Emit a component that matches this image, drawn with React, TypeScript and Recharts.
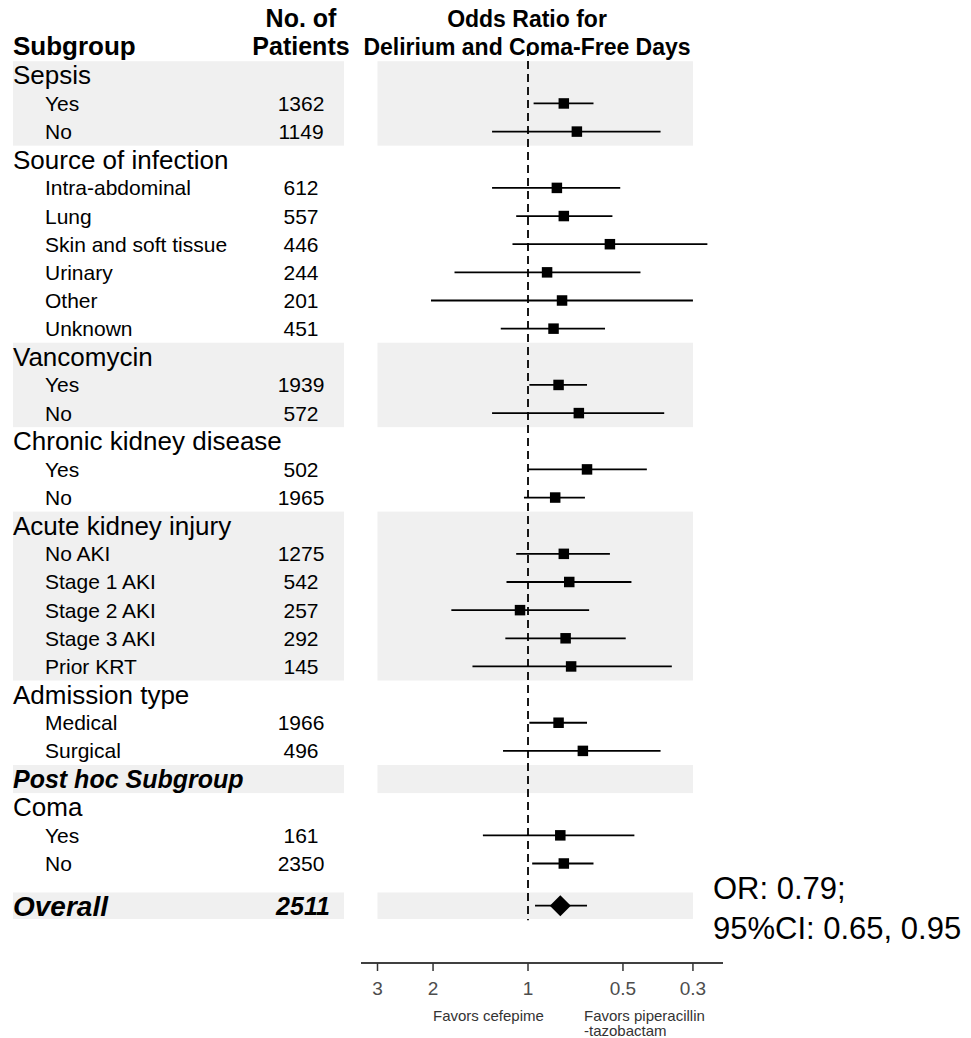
import React from 'react';
import { ScatterChart, Scatter, XAxis, YAxis, ErrorBar, ReferenceArea, ReferenceLine } from 'recharts';

const FONT = '"Liberation Sans", Arial, Helvetica, sans-serif';

// ---- data ----
const labels = [
  'Sepsis', 'Yes', 'No',
  'Source of infection', 'Intra-abdominal', 'Lung', 'Skin and soft tissue', 'Urinary', 'Other', 'Unknown',
  'Vancomycin', 'Yes', 'No',
  'Chronic kidney disease', 'Yes', 'No',
  'Acute kidney injury', 'No AKI', 'Stage 1 AKI', 'Stage 2 AKI', 'Stage 3 AKI', 'Prior KRT',
  'Admission type', 'Medical', 'Surgical',
  'Post hoc Subgroup',
  'Coma', 'Yes', 'No',
  'Overall',
];
const rowKinds = [
  'group', 'sub', 'sub',
  'group', 'sub', 'sub', 'sub', 'sub', 'sub', 'sub',
  'group', 'sub', 'sub',
  'group', 'sub', 'sub',
  'group', 'sub', 'sub', 'sub', 'sub', 'sub',
  'group', 'sub', 'sub',
  'posthoc',
  'group', 'sub', 'sub',
  'overall',
];
const rowPos = [0, 1, 2, 3, 4, 5, 6, 7, 8, 9, 10, 11, 12, 13, 14, 15, 16, 17, 18, 19, 20, 21, 22, 23, 24, 25, 26, 27, 28, 29.5];
const patients = [
  '', '1362', '1149',
  '', '612', '557', '446', '244', '201', '451',
  '', '1939', '572',
  '', '502', '1965',
  '', '1275', '542', '257', '292', '145',
  '', '1966', '496',
  '',
  '', '161', '2350',
  '2511',
];
const oddsRatio: (number | null)[] = [
  null, 0.77, 0.70,
  null, 0.81, 0.77, 0.55, 0.87, 0.78, 0.83,
  null, 0.80, 0.69,
  null, 0.65, 0.82,
  null, 0.77, 0.74, 1.06, 0.76, 0.73,
  null, 0.80, 0.67,
  null,
  null, 0.79, 0.77,
  0.79,
];
const ciLower: (number | null)[] = [
  null, 0.62, 0.38,
  null, 0.51, 0.54, 0.27, 0.44, 0.30, 0.57,
  null, 0.65, 0.37,
  null, 0.42, 0.66,
  null, 0.55, 0.47, 0.64, 0.49, 0.35,
  null, 0.65, 0.38,
  null,
  null, 0.46, 0.62,
  0.65,
];
const ciUpper: (number | null)[] = [
  null, 0.96, 1.30,
  null, 1.30, 1.09, 1.12, 1.71, 2.03, 1.22,
  null, 0.99, 1.30,
  null, 1.00, 1.03,
  null, 1.09, 1.17, 1.75, 1.18, 1.50,
  null, 0.99, 1.20,
  null,
  null, 1.39, 0.97,
  0.95,
];
const bandRows = [
  [0, 2],
  [10, 12],
  [16, 21],
  [25, 25],
  [29.5, 29.5],
];
const xTicks = [3, 2, 1, 0.5, 0.3];

// ---- derived table ----
const points = rowPos
  .map((row, i) => ({
    row,
    or: oddsRatio[i],
    err: oddsRatio[i] != null ? [(oddsRatio[i] as number) - (ciLower[i] as number), (ciUpper[i] as number) - (oddsRatio[i] as number)] : null,
    kind: rowKinds[i],
  }))
  .filter((d) => d.or != null);

const overallIdx = rowKinds.indexOf('overall');

const PointShape = (p: any) => {
  const { cx, cy, payload } = p;
  if (cx == null || cy == null) return null;
  if (payload && payload.kind === 'overall') {
    const h = 10.5;
    return <polygon points={`${cx - h},${cy} ${cx},${cy - h} ${cx + h},${cy} ${cx},${cy + h}`} fill="#000" />;
  }
  return <rect x={cx - 5.25} y={cy - 5.25} width={10.5} height={10.5} fill="#000" />;
};

const BandShape = (p: any) => {
  const { x, y, width, height } = p;
  return (
    <g>
      <rect x={13} y={y} width={331} height={height} fill="#F0F0F0" />
      <rect x={x} y={y} width={width} height={height} fill="#F0F0F0" />
    </g>
  );
};

const renderRowTick = (p: any) => {
  const { y, payload } = p;
  const v = payload ? Number(payload.value) : NaN;
  const i = rowPos.findIndex((r) => Math.abs(r - v) < 1e-6);
  if (i < 0) return <g />;
  const kind = rowKinds[i];
  let lx = 45, size = 21, weight: any = 'normal', style: any = 'normal', off = 7.5;
  if (kind === 'group') { lx = 13; size = 26; off = 9; }
  if (kind === 'posthoc') { lx = 13; size = 25; weight = 'bold'; style = 'italic'; off = 9; }
  if (kind === 'overall') { lx = 13; size = 28; weight = 'bold'; style = 'italic'; off = 10; }
  return (
    <g key={`rt-${i}`}>
      <text x={lx} y={y + off} fontSize={size} fontWeight={weight} fontStyle={style} fontFamily={FONT} fill="#000">{labels[i]}</text>
      {patients[i] ? (
        <text x={kind === 'overall' ? 303 : 301} y={y + (kind === 'overall' ? 9.5 : 7.5)} textAnchor="middle" fontSize={kind === 'overall' ? 25 : 21}
          fontWeight={kind === 'overall' ? 'bold' : 'normal'} fontStyle={kind === 'overall' ? 'italic' : 'normal'}
          fontFamily={FONT} fill="#000">{patients[i]}</text>
      ) : null}
    </g>
  );
};

export default function App() {
  return (
    <div style={{ position: 'absolute', left: 0, top: 0, width: 971, height: 1038, background: '#fff', fontFamily: FONT }}>
      <svg width={971} height={1038} style={{ position: 'absolute', left: 0, top: 0 }}>
        <text x={13} y={55} fontSize={26} fontWeight="bold" fontFamily={FONT} fill="#000">Subgroup</text>
        <text x={301} y={27} fontSize={25} fontWeight="bold" fontFamily={FONT} fill="#000" textAnchor="middle">No. of</text>
        <text x={301} y={55} fontSize={25} fontWeight="bold" fontFamily={FONT} fill="#000" textAnchor="middle">Patients</text>
        <text x={527} y={27} fontSize={23} fontWeight="bold" fontFamily={FONT} fill="#000" textAnchor="middle">Odds Ratio for</text>
        <text x={527} y={55} fontSize={23} fontWeight="bold" fontFamily={FONT} fill="#000" textAnchor="middle">Delirium and Coma-Free Days</text>
        <text x={433} y={1021} fontSize={15} fontFamily={FONT} fill="#333">Favors cefepime</text>
        <text x={584} y={1021} fontSize={15} fontFamily={FONT} fill="#333">Favors piperacillin</text>
        <text x={584} y={1036} fontSize={15} fontFamily={FONT} fill="#333">-tazobactam</text>
        <text x={713} y={899} fontSize={31} fontFamily={FONT} fill="#000">{`OR: ${oddsRatio[overallIdx]};`}</text>
        <text x={713} y={939} fontSize={31} fontFamily={FONT} fill="#000">{`95%CI: ${ciLower[overallIdx]}, ${ciUpper[overallIdx]}`}</text>
      </svg>
      <div style={{ position: 'absolute', left: 0, top: 0 }}>
        <ScatterChart width={971} height={1038} margin={{ top: 40, right: 248, bottom: 45, left: 351 }}>
          {bandRows.map(([a, b], k) => (
            <ReferenceArea key={k} x1={0.3} x2={3} y1={a - (a === b && a % 1 !== 0 ? 0.47 : 0.5)} y2={b + (a === b && a % 1 !== 0 ? 0.47 : 0.5)}
              shape={BandShape} ifOverflow="visible" />
          ))}
          <XAxis type="number" dataKey="or" scale="log" domain={[0.2409, 3.384]} reversed allowDataOverflow
            ticks={xTicks} interval={0} tickFormatter={(v: number) => String(v)}
            tick={{ fontSize: 19, fill: '#4D4D4D', fontFamily: FONT }}
            tickSize={8} tickMargin={11} height={30}
            axisLine={{ stroke: '#000', strokeWidth: 1.5 }} tickLine={{ stroke: '#333', strokeWidth: 1.5 }} />
          <YAxis type="number" dataKey="row" domain={[-1.254, 31.535]} reversed allowDataOverflow
            ticks={rowPos} interval={0} width={10} axisLine={false} tickLine={false} tick={renderRowTick} />
          <ReferenceLine segment={[{ x: 1, y: -0.97 }, { x: 1, y: 30.02 }]} stroke="#000" strokeWidth={1.8} strokeDasharray="8 5" ifOverflow="visible" />
          <Scatter data={points} shape={PointShape} isAnimationActive={false}>
            <ErrorBar dataKey="err" direction="x" width={0} stroke="#000" strokeWidth={1.8} />
          </Scatter>
        </ScatterChart>
      </div>
    </div>
  );
}
